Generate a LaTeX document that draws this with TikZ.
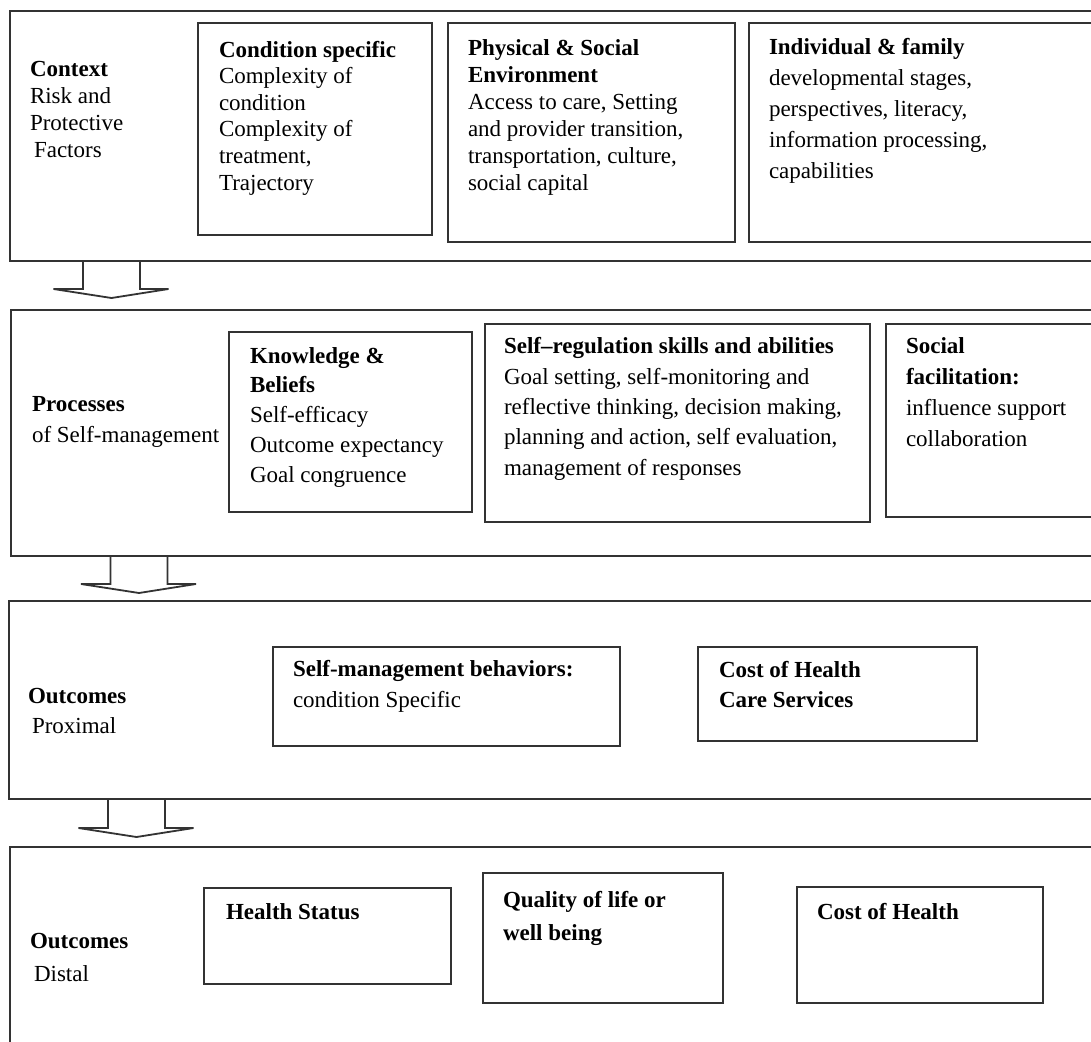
\documentclass[tikz,border=0pt]{standalone}
\usepackage{fontspec}
\setmainfont{Liberation Serif}
\tikzset{
  frame/.style={draw=black!80, line width=1.8pt},
  box/.style={frame, anchor=north west, inner sep=0pt, outer sep=0pt, rectangle},
  txt/.style={anchor=base west, inner sep=0pt, outer sep=0pt, align=left, font=\fontsize{23}{#1}\selectfont},
  txt/.default=27,
  blockarrow/.pic={\draw[frame, line join=miter] (-28.5,0) -- (-28.5,28) -- (-58,28) -- (0,37) -- (57,28) -- (28.5,28) -- (28.5,0);}
}
\begin{document}
\begin{tikzpicture}[x=1pt, y=-1pt]
\useasboundingbox (0,0) rectangle (1091,1041);
\clip (0,0) rectangle (1091,1041);
\fill[white] (0,0) rectangle (1091,1041);
% bands
\node[box, minimum width=1110pt, minimum height=250pt] (band1) at (10,11) {};
\node[box, minimum width=1110pt, minimum height=246pt] (band2) at (11,310) {};
\node[box, minimum width=1110pt, minimum height=198pt] (band3) at (9,601) {};
\node[box, minimum width=1110pt, minimum height=230pt] (band4) at (10,847) {};
% arrows between bands
\pic (arr1) at (111.5,261) {blockarrow};
\pic (arr2) at (139,556) {blockarrow};
\pic (arr3) at (136.5,800) {blockarrow};
% band 1 (text nodes anchored at the baseline of their last line)
\node[txt=26.7] (ctx) at (30,157) {\textbf{Context}\\Risk and\\Protective\\\hspace{4pt}Factors};
\node[box, minimum width=234pt, minimum height=212pt] (cond) at (198,23) {};
\node[txt=26.6] (condt) at (219,190) {\textbf{Condition specific}\\Complexity of\\condition\\Complexity of\\treatment,\\Trajectory};
\node[box, minimum width=287pt, minimum height=219pt] (phys) at (448,23) {};
\node[txt=27] (physt) at (468,190) {\textbf{Physical \& Social}\\\textbf{Environment}\\Access to care, Setting\\and provider transition,\\transportation, culture,\\social capital};
\node[box, minimum width=400pt, minimum height=219pt] (indiv) at (749,23) {};
\node[txt=31] (indivt) at (769,178) {\textbf{Individual \& family}\\developmental stages,\\perspectives, literacy,\\information processing,\\capabilities};
% band 2
\node[txt=31] (proc) at (32,442) {\textbf{Processes}\\of Self-management};
\node[box, minimum width=243pt, minimum height=180pt] (know) at (229,332) {};
\node[txt=29.75] (knowt) at (250,482) {\textbf{Knowledge \&}\\\textbf{Beliefs}\\Self-efficacy\\Outcome expectancy\\Goal congruence};
\node[box, minimum width=385pt, minimum height=198pt] (selfreg) at (485,324) {};
\node[txt=30.3] (selfregt) at (504,475) {\textbf{Self–regulation skills and abilities}\\Goal setting, self-monitoring and\\reflective thinking, decision making,\\planning and action, self evaluation,\\management of responses};
\node[box, minimum width=300pt, minimum height=193pt] (social) at (886,324) {};
\node[txt=30.7] (socialt) at (906,446) {\textbf{Social}\\\textbf{facilitation:}\\influence support\\collaboration};
% band 3
\node[txt=30] (outprox) at (28,733) {\textbf{Outcomes}\\\hspace{4pt}Proximal};
\node[box, minimum width=347pt, minimum height=99pt] (smb) at (273,647) {};
\node[txt=31] (smbt) at (293,707) {\textbf{Self-management behaviors:}\\condition Specific};
\node[box, minimum width=279pt, minimum height=94pt] (costhc) at (698,647) {};
\node[txt=30] (costhct) at (719,707) {\textbf{Cost of Health}\\\textbf{Care Services}};
% band 4
\node[txt=33] (outdist) at (30,981) {\textbf{Outcomes}\\\hspace{4pt}Distal};
\node[box, minimum width=247pt, minimum height=96pt] (health) at (204,888) {};
\node[txt] (healtht) at (226,919) {\textbf{Health Status}};
\node[box, minimum width=240pt, minimum height=130pt] (qual) at (483,873) {};
\node[txt=33] (qualt) at (503,940) {\textbf{Quality of life or}\\\textbf{well being}};
\node[box, minimum width=246pt, minimum height=116pt] (cost) at (797,887) {};
\node[txt] (costt) at (817,919) {\textbf{Cost of Health}};
\end{tikzpicture}
\end{document}
